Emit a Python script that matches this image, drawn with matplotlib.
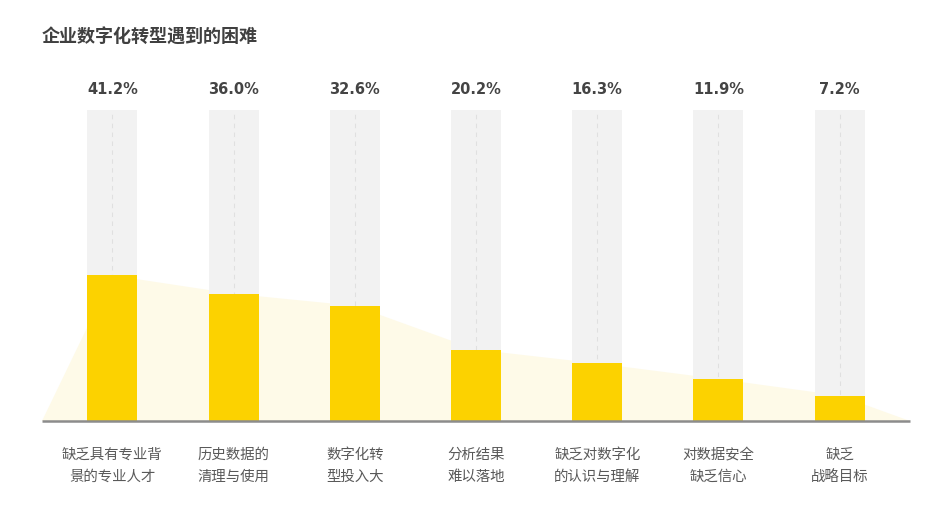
import matplotlib
matplotlib.use("Agg")
import matplotlib.pyplot as plt

plt.rcParams['font.family'] = ['Noto Sans CJK SC', 'DejaVu Sans']

title = "企业数字化转型遇到的困难"
categories = ["缺乏具有专业背\n景的专业人才", "历史数据的\n清理与使用", "数字化转\n型投入大",
              "分析结果\n难以落地", "缺乏对数字化\n的认识与理解", "对数据安全\n缺乏信心", "缺乏\n战略目标"]
values = [41.2, 36.0, 32.6, 20.2, 16.3, 11.9, 7.2]
value_labels = ["41.2%", "36.0%", "32.6%", "20.2%", "16.3%", "11.9%", "7.2%"]
track_max = 88

W, H = 952, 512
fig = plt.figure(figsize=(W / 100, H / 100), dpi=100)
left_px, right_px, top_px, base_px = 42, 910, 110, 421
ax = fig.add_axes([left_px / W, (H - base_px) / H, (right_px - left_px) / W, (base_px - top_px) / H])
n = len(values)
pad = 0.58
ax.set_xlim(-pad, n - 1 + pad)
ax.set_ylim(0, track_max)
ax.axis('off')

xs = list(range(n))
bw = 50 / 121.3

# light area behind bars
area_x = [-pad] + xs + [n - 1 + pad]
area_y = [0] + values + [0]
ax.fill(area_x, area_y, color='#FEFAE8', zorder=1, lw=0)

# background tracks
ax.bar(xs, [track_max] * n, width=bw, color='#F2F2F2', zorder=2, lw=0)
ax.vlines(xs, 0, track_max, colors='#E0E0E0', linestyles=(0, (4, 4)), lw=0.8, zorder=3)
# main bars
ax.bar(xs, values, width=bw, color='#FCD200', zorder=4, lw=0)

# baseline
ax.plot([-pad, n - 1 + pad], [0, 0], color='#8C8C8C', lw=1.8, zorder=5, clip_on=False, solid_capstyle='butt')

for x, lab in zip(xs, value_labels):
    ax.annotate(lab, (x, track_max), xytext=(0, 14.4), textcoords='offset points',
                ha='center', va='center', fontsize=10.5, fontweight='bold', color='#444444',
                family=['DejaVu Sans'])

for x, cat in zip(xs, categories):
    lines = cat.split('\n')
    for j, line in enumerate(lines):
        ax.annotate(line, (x, 0), xytext=(0, -(34 + 22 * j) * 0.72), textcoords='offset points',
                    ha='center', va='center', fontsize=10.4, color='#595959')

fig.text(42 / W, 1 - 37 / H, title, ha='left', va='center', fontsize=13, fontweight='bold', color='#404040')

fig.savefig('out.png', dpi=100, facecolor='white')
